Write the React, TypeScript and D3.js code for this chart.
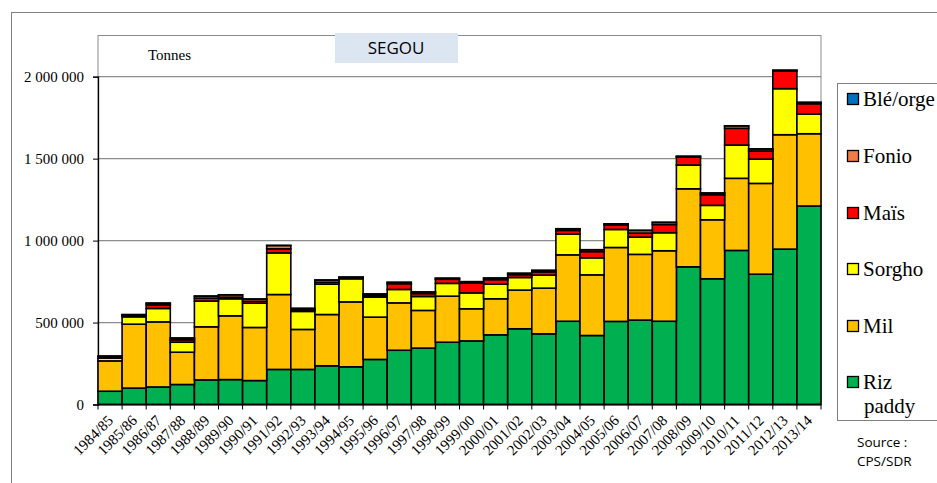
import { useEffect, useRef } from "react";
import * as d3 from "d3";

// Production céréalière, région de Ségou (tonnes)
const seasons = [
  "1984/85", "1985/86", "1986/87", "1987/88", "1988/89", "1989/90", "1990/91",
  "1991/92", "1992/93", "1993/94", "1994/95", "1995/96", "1996/97", "1997/98",
  "1998/99", "1999/00", "2000/01", "2001/02", "2002/03", "2003/04", "2004/05",
  "2005/06", "2006/07", "2007/08", "2008/09", "2009/10", "2010/11", "2011/12",
  "2012/13", "2013/14",
];

const riz = [
  81000, 100000, 107000, 122000, 150000, 152000, 146000, 214000, 214000, 236000,
  230000, 275000, 331000, 344000, 380000, 388000, 425000, 462000, 431000, 508000,
  421000, 507000, 515000, 508000, 840000, 767000, 940000, 795000, 948000, 1211000,
];
const mil = [
  185000, 390000, 397000, 197000, 324000, 389000, 324000, 457000, 244000, 313000,
  396000, 258000, 289000, 230000, 281000, 196000, 220000, 236000, 279000, 405000,
  370000, 451000, 401000, 430000, 476000, 360000, 440000, 554000, 698000, 441000,
];
const sorgho = [
  17000, 45000, 82000, 61000, 157000, 104000, 148000, 254000, 110000, 185000,
  141000, 122000, 82000, 85000, 78000, 97000, 89000, 77000, 79000, 127000,
  104000, 110000, 105000, 110000, 145000, 88000, 203000, 148000, 281000, 120000,
];
const mais = [
  7000, 8000, 22000, 15000, 18000, 10000, 12000, 25000, 8000, 12000,
  5000, 10000, 35000, 18000, 25000, 60000, 28000, 17000, 20000, 22000,
  38000, 28000, 25000, 50000, 48000, 65000, 102000, 50000, 107000, 63000,
];
const fonio = [
  5000, 5000, 10000, 10000, 12000, 14000, 13000, 20000, 10000, 13000,
  5000, 9000, 8000, 9000, 6000, 8000, 9000, 8000, 9000, 10000,
  11000, 6000, 16000, 13000, 5000, 10000, 15000, 12000, 5000, 8000,
];
const bleOrge = [
  500, 500, 500, 500, 500, 500, 500, 500, 500, 500,
  500, 500, 500, 500, 500, 500, 500, 500, 500, 500,
  500, 500, 500, 500, 500, 500, 500, 500, 500, 500,
];

const seriesNames = ["Riz paddy", "Mil", "Sorgho", "Maïs", "Fonio", "Blé/orge"];
const seriesColors = ["#00b050", "#ffc000", "#ffff00", "#ff0000", "#f07c4a", "#0070c0"];
const legendOrder = ["Blé/orge", "Fonio", "Maïs", "Sorgho", "Mil", "Riz paddy"];
const yTicks = [0, 500000, 1000000, 1500000, 2000000];

const W = 937;
const H = 483;
const SERIF = "Liberation Serif";

export default function App() {
  const ref = useRef<SVGSVGElement | null>(null);

  useEffect(() => {
    const el = ref.current;
    if (!el) return;
    const svg = d3.select(el);
    svg.selectAll("*").remove();

    const cols = [riz, mil, sorgho, mais, fonio, bleOrge];
    const rows = seasons.map((s, i) => {
      const r: Record<string, any> = { season: s };
      seriesNames.forEach((n, k) => (r[n] = cols[k][i]));
      return r;
    });
    const stacked = d3.stack<any>().keys(seriesNames)(rows);
    const color = d3.scaleOrdinal<string>().domain(seriesNames).range(seriesColors);

    const plot = { left: 98, right: 821, top: 35, bottom: 404.5 };
    const x = d3.scaleBand().domain(seasons).range([plot.left, plot.right]).padding(0);
    const y = d3.scaleLinear().domain([0, 2000000]).range([plot.bottom, 76.7]);

    const fmt = (v: number) => d3.format(",")(v).replace(/,/g, " ");

    // outer chart frame
    svg.append("rect")
      .attr("x", 11.5).attr("y", 12.5)
      .attr("width", W).attr("height", H)
      .attr("fill", "#fff").attr("stroke", "#7f7f7f");

    // plot area frame
    svg.append("rect")
      .attr("x", plot.left).attr("y", plot.top + 0.5)
      .attr("width", plot.right - plot.left).attr("height", plot.bottom - plot.top)
      .attr("fill", "none").attr("stroke", "#8c8c8c");

    // gridlines
    svg.append("g")
      .selectAll("line")
      .data(yTicks.slice(1))
      .join("line")
      .attr("x1", plot.left).attr("x2", plot.right)
      .attr("y1", (d) => y(d)).attr("y2", (d) => y(d))
      .attr("stroke", "#8c8c8c").attr("stroke-width", 1.2);

    // y axis
    svg.append("g")
      .attr("transform", `translate(${plot.left},0)`)
      .call(d3.axisLeft(y).tickValues(yTicks).tickSize(5).tickPadding(9).tickFormat((d) => fmt(+d)))
      .call((g) => g.attr("font-family", SERIF))
      .call((g) => g.select(".domain").attr("stroke", "#000").attr("stroke-width", 1.3))
      .call((g) => g.selectAll(".tick line").attr("stroke", "#000"))
      .selectAll("text")
      .attr("font-family", SERIF)
      .attr("font-size", 15)
      .attr("fill", "#000");

    // bars
    svg.append("g")
      .selectAll("g")
      .data(stacked)
      .join("g")
      .attr("fill", (d) => color(d.key))
      .selectAll("rect")
      .data((d) => d)
      .join("rect")
      .attr("x", (d) => x(d.data.season)!)
      .attr("y", (d) => y(d[1]))
      .attr("width", x.bandwidth())
      .attr("height", (d) => Math.max(0, y(d[0]) - y(d[1])))
      .attr("stroke", "#000")
      .attr("stroke-width", 1.6);

    // x axis with ticks between categories
    const xAxis = svg.append("g");
    xAxis.append("line")
      .attr("x1", plot.left).attr("x2", plot.right)
      .attr("y1", plot.bottom).attr("y2", plot.bottom)
      .attr("stroke", "#000").attr("stroke-width", 1.3);
    xAxis.selectAll(".xt")
      .data(d3.range(seasons.length + 1))
      .join("line")
      .attr("class", "xt")
      .attr("x1", (i) => plot.left + i * x.step())
      .attr("x2", (i) => plot.left + i * x.step())
      .attr("y1", plot.bottom).attr("y2", plot.bottom + 5)
      .attr("stroke", "#000");
    xAxis.selectAll("text")
      .data(seasons)
      .join("text")
      .attr("transform", (d) => `translate(${x(d)! + x.bandwidth() / 2 + 4},${plot.bottom + 17}) rotate(-45)`)
      .attr("text-anchor", "end")
      .attr("font-family", SERIF)
      .attr("font-size", 15)
      .attr("fill", "#000")
      .text((d) => d);

    // Tonnes label
    svg.append("text")
      .attr("x", 148).attr("y", 60)
      .attr("font-family", SERIF)
      .attr("font-size", 15)
      .text("Tonnes");

    // SEGOU title box
    svg.append("rect")
      .attr("x", 335).attr("y", 33).attr("width", 123).attr("height", 30)
      .attr("fill", "#dce6f2");
    svg.append("text")
      .attr("x", 396).attr("y", 54)
      .attr("text-anchor", "middle")
      .attr("font-family", "Open Sans")
      .attr("font-size", 17)
      .text("SEGOU");

    // legend
    const lg = svg.append("g");
    lg.append("rect")
      .attr("x", 837.5).attr("y", 83.5).attr("width", 120).attr("height", 337)
      .attr("fill", "#fff").attr("stroke", "#7f7f7f");
    const itemY = [99, 156, 213, 269, 326, 382];
    legendOrder.forEach((name, i) => {
      const cy = itemY[i];
      lg.append("rect")
        .attr("x", 847.5).attr("y", cy - 5.5).attr("width", 11).attr("height", 11)
        .attr("fill", color(name)).attr("stroke", "#000").attr("stroke-width", 1.3);
      const t = lg.append("text")
        .attr("x", 863).attr("y", cy + 7)
        .attr("font-family", SERIF)
        .attr("font-size", 21)
        .attr("fill", "#000");
      if (name === "Riz paddy") {
        t.text("Riz");
        lg.append("text")
          .attr("x", 864).attr("y", cy + 31)
          .attr("font-family", SERIF)
          .attr("font-size", 21)
          .text("paddy");
      } else {
        t.text(name);
      }
    });

    // source
    const src = svg.append("g")
      .attr("font-family", "Open Sans")
      .attr("font-size", 13.5)
      .attr("fill", "#000");
    src.append("text").attr("x", 857).attr("y", 447).text("Source :");
    src.append("text").attr("x", 857).attr("y", 466).text("CPS/SDR");
  }, []);

  return (
    <svg
      ref={ref}
      width={W}
      height={H}
      style={{ position: "absolute", left: 0, top: 0, background: "#fff" }}
    />
  );
}
